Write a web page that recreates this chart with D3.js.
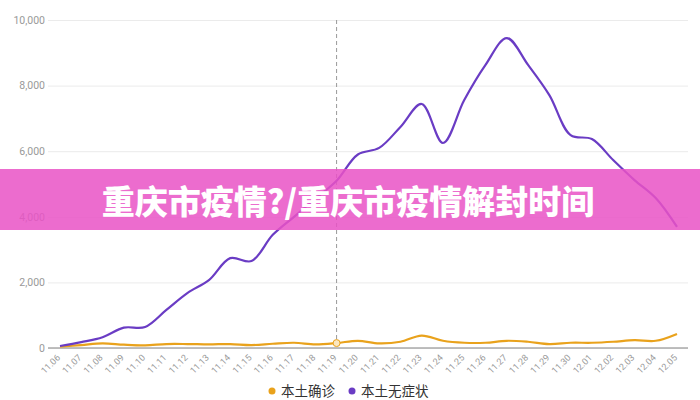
<!DOCTYPE html>
<html><head><meta charset="utf-8">
<script src="https://cdn.jsdelivr.net/npm/d3@7/dist/d3.min.js"></script>
<style>body{margin:0;background:#fff}svg{display:block}</style>
</head><body>
<svg id="c" width="700" height="400"></svg>
<script>
const dates = ["11.06","11.07","11.08","11.09","11.10","11.11","11.12","11.13","11.14","11.15","11.16","11.17","11.18","11.19","11.20","11.21","11.22","11.23","11.24","11.25","11.26","11.27","11.28","11.29","11.30","12.01","12.02","12.03","12.04","12.05"];
const confirmed = [40,90,140,100,80,120,120,110,120,90,130,160,110,150,220,140,190,380,220,160,160,220,190,120,160,160,190,240,220,430];
const asymptomatic = [60,180,330,620,640,1160,1680,2070,2740,2650,3450,4000,4550,5100,5900,6100,6740,7440,6250,7560,8630,9450,8630,7710,6490,6370,5730,5120,4570,3690];
const yTicks = [0,2000,4000,6000,8000,10000];
const seriesNames = ["本土确诊","本土无症状"];
const colors = ["#e9a21c","#6a3cc4"];
const bannerText = "重庆市疫情?/重庆市疫情解封时间";
const markerDate = "11.19";

const svg = d3.select("#c");
const x = d3.scalePoint().domain(dates).range([60,677]);
const y = d3.scaleLinear().domain([0,10000]).range([348,20]);
const fmt = d3.format(",");

// grid + y labels
const yAxis = svg.append("g").attr("transform","translate(48,0)")
  .call(d3.axisLeft(y).tickValues(yTicks).tickSize(-640).tickFormat(fmt));
yAxis.select(".domain").remove();
yAxis.selectAll(".tick line").attr("stroke","#ebebeb").attr("stroke-width",1);
yAxis.selectAll(".tick text").attr("fill","#999").attr("font-size","10.5px")
  .attr("font-family","Roboto, 'Noto Sans', sans-serif").attr("x",-3);

// x axis
const xAxis = svg.append("g").attr("transform","translate(0,348)")
  .call(d3.axisBottom(x).tickSize(0).tickFormat(d=>d));
xAxis.select(".domain").attr("d","M48,0H688").attr("stroke","#aaa").attr("stroke-width",1.5);
xAxis.selectAll(".tick text").attr("fill","#999").attr("font-size","9px")
  .attr("font-family","Roboto, 'Noto Sans', sans-serif")
  .attr("text-anchor","end").attr("transform","translate(-2,8) rotate(-45)").attr("dy","0.35em").attr("y",0);

// dashed marker line
svg.append("line").attr("x1",x(markerDate)).attr("x2",x(markerDate))
  .attr("y1",y(10000)).attr("y2",y(0)).attr("stroke","#999").attr("stroke-dasharray","4,3").attr("stroke-width",1);

const line = d3.line().x((d,i)=>x(dates[i])).y(d=>y(d)).curve(d3.curveCatmullRom.alpha(0.5));
[confirmed, asymptomatic].forEach((s,k)=>{
  svg.append("path").datum(s).attr("d",line).attr("fill","none")
    .attr("stroke",colors[k]).attr("stroke-width",2.2).attr("stroke-linejoin","round");
});
// hover point
const mi = dates.indexOf(markerDate);
svg.append("circle").attr("cx",x(markerDate)).attr("cy",y(confirmed[mi])).attr("r",3.5)
  .attr("fill","#fbe7c0").attr("stroke",colors[0]).attr("stroke-width",1);

// legend
const lg = svg.append("g").attr("font-family","'Noto Sans CJK SC', sans-serif").attr("font-size","13.5px");
const legX = [272, 352];
seriesNames.forEach((n,k)=>{
  lg.append("circle").attr("cx",legX[k]).attr("cy",391).attr("r",3.5).attr("fill",colors[k]);
  lg.append("text").attr("x",legX[k]+9).attr("y",391).attr("dy","0.35em").attr("fill","#333").text(n);
});

// banner
svg.append("rect").attr("x",0).attr("y",169).attr("width",700).attr("height",61)
  .attr("fill","#e952c6").attr("opacity",0.85);
svg.append("text").attr("x",348).attr("y",202).attr("dy","0.35em").attr("text-anchor","middle")
  .attr("font-family","'Noto Sans CJK SC', sans-serif").attr("font-weight",900).attr("font-size","33px")
  .attr("fill","#fff").text(bannerText);
</script>
</body></html>
